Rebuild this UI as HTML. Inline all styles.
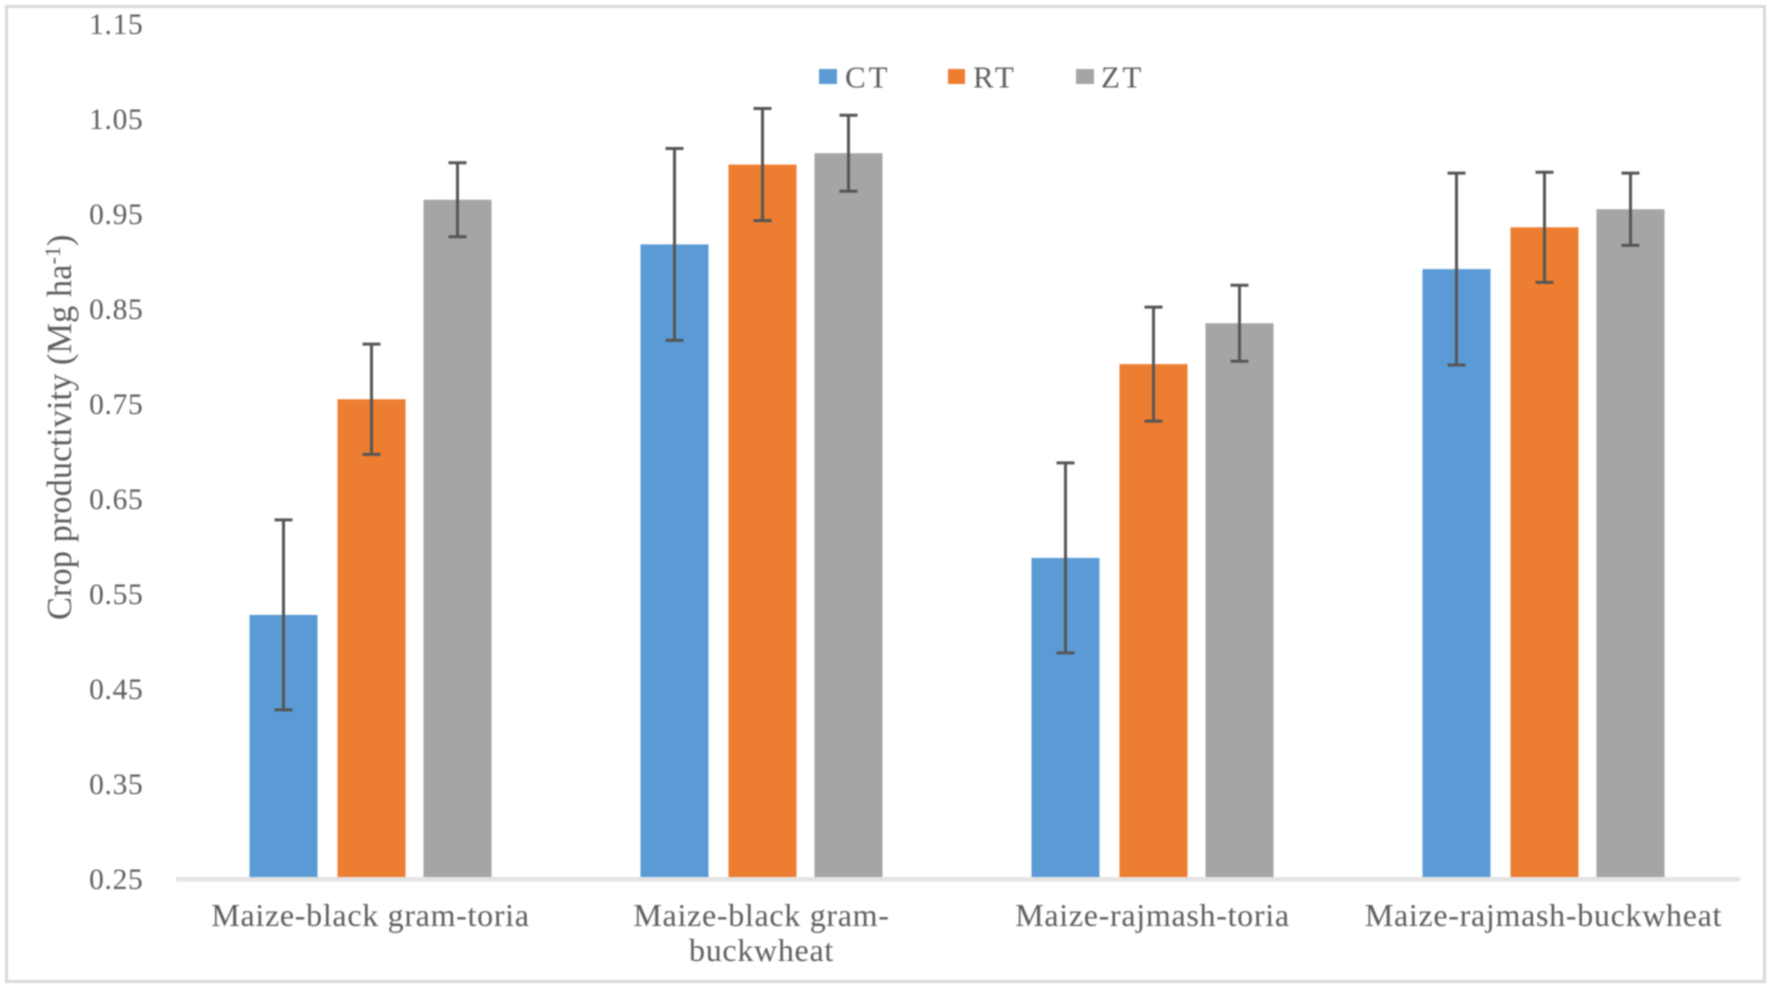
<!DOCTYPE html>
<html lang="en">
<head>
<meta charset="utf-8">
<title>Crop productivity by cropping system and tillage</title>
<style>
html,body{margin:0;padding:0;background:#fff;width:1772px;height:988px;overflow:hidden}
svg{display:block;filter:blur(0.7px)}
text{font-family:"Liberation Serif",serif;fill:#5e5e5e}
</style>
</head>
<body>
<svg id="chart" xmlns="http://www.w3.org/2000/svg" width="1772" height="988" viewBox="0 0 1772 988">
  <rect x="6.5" y="6.5" width="1758" height="975" fill="#fff" stroke="#d9d9d9" stroke-width="3"/>
  <g id="y-ticks"></g>
  <g id="bars"></g>
  <rect x="176" y="877" width="1564" height="4.5" fill="#e4e4e4"/>
  <g id="errors"></g>
  <g id="x-labels"></g>
  <text transform="translate(71 620) rotate(-90)" font-size="34.5">Crop productivity (Mg ha<tspan font-size="22" dy="-11">-1</tspan><tspan dy="11">)</tspan></text>
  <g>
    <rect x="819" y="69" width="18" height="15" fill="#5b9bd5"/>
    <text x="845" y="87.5" font-size="31" letter-spacing="3">CT</text>
    <rect x="948" y="69" width="17" height="15" fill="#ed7d31"/>
    <text x="973" y="87.5" font-size="31" letter-spacing="3">RT</text>
    <rect x="1076" y="69" width="18" height="15" fill="#a5a5a5"/>
    <text x="1101" y="87.5" font-size="31" letter-spacing="2.5">ZT</text>
  </g>
</svg>
<script>
const categories = [["Maize-black gram-toria"], ["Maize-black gram-", "buckwheat"], ["Maize-rajmash-toria"], ["Maize-rajmash-buckwheat"]];
const tickLabels = ["0.25", "0.35", "0.45", "0.55", "0.65", "0.75", "0.85", "0.95", "1.05", "1.15"];
const seriesCT = [0.528, 0.918, 0.588, 0.892];
const seriesRT = [0.755, 1.002, 0.792, 0.936];
const seriesZT = [0.965, 1.014, 0.835, 0.955];
const errorCT = [0.100, 0.101, 0.100, 0.101];
const errorRT = [0.058, 0.059, 0.060, 0.058];
const errorZT = [0.039, 0.040, 0.040, 0.038];

const NS = 'http://www.w3.org/2000/svg';
const yBase = 879, yPerUnit = 950, yMin = 0.25;
const groupStart = 370.5, groupStep = 391, barOffset = 87, barWidth = 68;
function yScale(v) { return yBase - (v - yMin) * yPerUnit; }
function groupX(i) { return groupStart + i * groupStep; }
function make(tag, attrs, parent) {
  const el = document.createElementNS(NS, tag);
  for (const k in attrs) el.setAttribute(k, attrs[k]);
  parent.appendChild(el);
  return el;
}

const seriesList = [
  { key: 'ct', values: seriesCT, errors: errorCT, color: '#5b9bd5', offset: -barOffset },
  { key: 'rt', values: seriesRT, errors: errorRT, color: '#ed7d31', offset: 1 },
  { key: 'zt', values: seriesZT, errors: errorZT, color: '#a5a5a5', offset: barOffset }
];

const tickGroup = document.getElementById('y-ticks');
tickLabels.forEach(function (label) {
  const t = make('text', { x: 143.5, y: yScale(parseFloat(label)) + 10, 'text-anchor': 'end', 'font-size': 29.5, 'letter-spacing': 0.7 }, tickGroup);
  
  
  t.textContent = label;
});

const barGroup = document.getElementById('bars');
const errGroup = document.getElementById('errors');
seriesList.forEach(function (s) {
  s.values.forEach(function (v, i) {
    const cx = groupX(i) + s.offset;
    const top = yScale(v);
    const bar = make('rect', { x: cx - barWidth / 2, y: top, width: barWidth, height: yBase - top, fill: s.color }, barGroup);
    
    

    const hi = yScale(v + s.errors[i]);
    const lo = yScale(v - s.errors[i]);
    const path = 'M' + cx + ' ' + hi + 'V' + lo +
      'M' + (cx - 9) + ' ' + hi + 'H' + (cx + 9) +
      'M' + (cx - 9) + ' ' + lo + 'H' + (cx + 9);
    const err = make('path', { d: path, fill: 'none', stroke: '#555555', 'stroke-width': 3 }, errGroup);
    
    
  });
});

const labelGroup = document.getElementById('x-labels');
categories.forEach(function (lines, i) {
  lines.forEach(function (line, j) {
    const t = make('text', { x: groupX(i), y: 926 + j * 35, 'text-anchor': 'middle', 'font-size': 32, 'letter-spacing': 0.7 }, labelGroup);
    
    
    t.textContent = line;
  });
});
</script>
</body>
</html>
